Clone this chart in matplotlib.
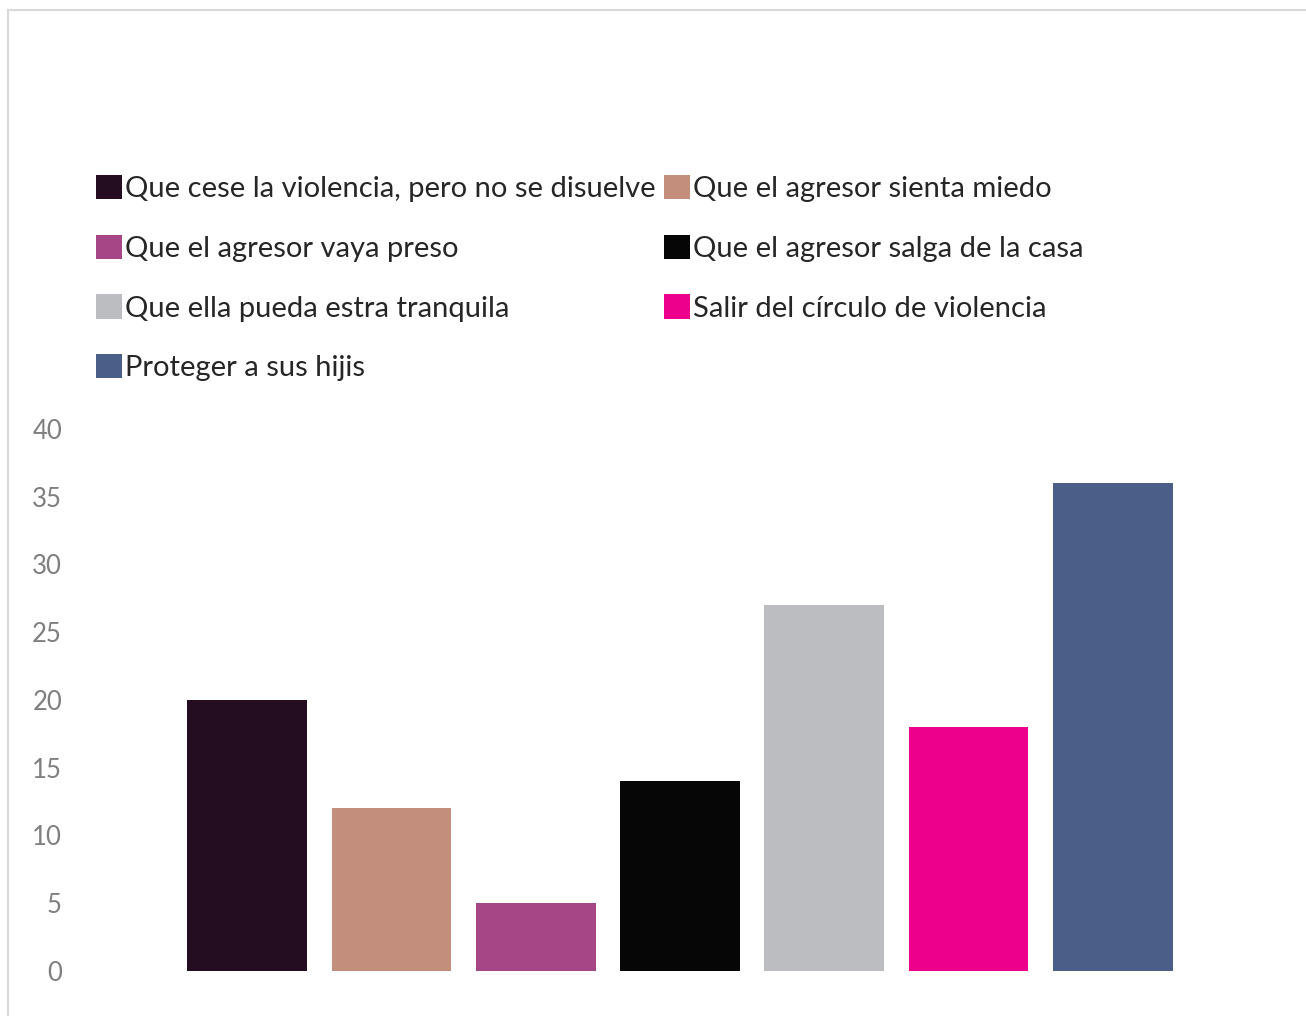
import matplotlib
matplotlib.use("Agg")
import matplotlib.pyplot as plt
from matplotlib.patches import Patch
from matplotlib.lines import Line2D

categories = [
    "Que cese la violencia, pero no se disuelve",
    "Que el agresor sienta miedo",
    "Que el agresor vaya preso",
    "Que el agresor salga de la casa",
    "Que ella pueda estra tranquila",
    "Salir del círculo de violencia",
    "Proteger a sus hijis",
]
values = [20, 12, 5, 14, 27, 18, 36]
colors = ["#250D21", "#C48E7C", "#A64686", "#060606", "#BCBDC1", "#EC008C", "#4A5E88"]
yticks = [0, 5, 10, 15, 20, 25, 30, 35, 40]

plt.rcParams['font.family'] = ['Lato', 'DejaVu Sans']

W, H = 1306, 1016
dpi = 100
fig = plt.figure(figsize=(W / dpi, H / dpi), dpi=dpi)
fig.patch.set_facecolor("white")

# plot area in pixels
left_px, right_px = 175, 1185
y0_px, y40_px = 971, 429
ax = fig.add_axes([left_px / W, 1 - y0_px / H, (right_px - left_px) / W, (y0_px - y40_px) / H])

x = list(range(len(categories)))
ax.bar(x, values, width=0.83, color=colors, zorder=2)
ax.set_xlim(-0.5, len(categories) - 0.5)
ax.set_ylim(0, 40)
ax.set_yticks(yticks)
ax.set_yticklabels([str(t) for t in yticks])
ax.set_xticks([])
for s in ax.spines.values():
    s.set_visible(False)
ax.tick_params(axis="y", length=0, pad=(left_px - 62) * 72 / dpi, labelsize=18.5, labelcolor="#7F7F7F")

# legend, row-major order -> reorder for matplotlib column-major fill
handles = [Patch(facecolor=c, edgecolor="none") for c in colors]
order = [0, 2, 4, 6, 1, 3, 5]
leg = fig.legend([handles[i] for i in order], [categories[i] for i in order],
                 ncol=2, loc="upper left",
                 bbox_to_anchor=(96 / W, 1 - 175 / H),
                 frameon=False, fontsize=21,
                 handlelength=0.89, handleheight=0.89, handletextpad=0.1,
                 columnspacing=0.3, labelspacing=1.12, borderaxespad=0, borderpad=0)
for t in leg.get_texts():
    t.set_color("#262626")

# light gray frame (top and left edges visible)
fig.add_artist(Line2D([8 / W, 1.0], [1 - 10 / H, 1 - 10 / H], color="#D9D9D9", lw=1.5, transform=fig.transFigure))
fig.add_artist(Line2D([8 / W, 8 / W], [1 - 10 / H, 0.0], color="#D9D9D9", lw=1.5, transform=fig.transFigure))

fig.savefig("out.png", dpi=dpi, facecolor="white")
